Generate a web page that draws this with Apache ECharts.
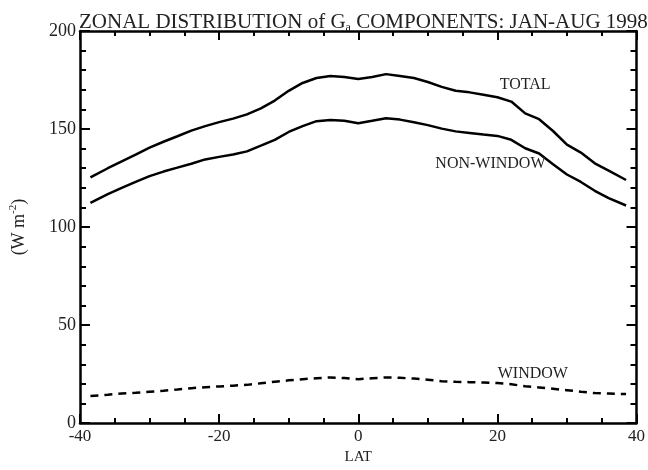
<!DOCTYPE html>
<html>
<head>
<meta charset="utf-8">
<script src="https://cdn.jsdelivr.net/npm/echarts@6/dist/echarts.min.js"></script>
<style>
  html, body { margin: 0; padding: 0; background: #fff; }
  #chart { width: 648px; height: 470px; }
</style>
</head>
<body>
<div id="chart"></div>
<script>
// Latitude grid (degrees)
const lat = [-38.5, -36, -34, -32, -30, -28, -26, -24, -22, -20, -18, -16, -14, -12, -10,
  -8, -6, -4, -2, 0, 2, 4, 6, 8, 10, 12, 14, 16, 18, 20, 22, 24, 26, 28, 30, 32, 34, 36, 38.5];

// Zonal means, W m-2
const total = [125.3, 130, 133.5, 137, 140.5, 143.5, 146.3, 149.2, 151.5, 153.5, 155.3, 157.5, 160.5, 164.5, 169.5,
  173.5, 176, 177, 176.5, 175.5, 176.5, 178, 177, 176, 174, 171.5, 169.5, 168.7, 167.5, 166.2, 164, 158, 155, 149, 142, 138, 132.5, 128.8, 124];
const nonWindow = [112.3, 116.8, 120, 123, 126, 128.3, 130.3, 132.3, 134.5, 135.8, 137, 138.6, 141.5, 144.5, 148.5,
  151.5, 154, 154.6, 154.2, 153, 154.2, 155.5, 154.8, 153.5, 152, 150.2, 148.8, 148, 147.2, 146.5, 144.5, 140.2, 137.5, 132, 126.8, 123, 118.5, 114.8, 111];
const windowBand = [13.8, 14.5, 15.1, 15.5, 16, 16.5, 17.1, 17.8, 18.3, 18.7, 19.1, 19.5, 20.3, 21.1, 21.8,
  22.4, 22.9, 23.3, 23, 22.4, 22.9, 23.3, 23.1, 22.7, 22.1, 21.4, 21.1, 20.9, 20.7, 20.4, 19.8, 18.8, 18.2, 17.5, 16.8, 16, 15.3, 15.1, 14.8];

// Curve labels: [text, lat, value]
const curveLabels = [
  ['TOTAL', 24, 172.5],
  ['NON-WINDOW', 19, 132.5],
  ['WINDOW', 25.1, 25]
];

const FONT = 'Liberation Serif';
const pair = arr => lat.map((x, i) => [x, arr[i]]);

const chart = echarts.init(document.getElementById('chart'));

const frameLine = { show: true, onZero: false, lineStyle: { color: '#000', width: 2.5 } };
const xCommon = {
  type: 'value', min: -40, max: 40, interval: 20,
  axisLine: frameLine,
  axisTick: { show: true, inside: true, length: 9, lineStyle: { color: '#000', width: 2 } },
  minorTick: { show: true, splitNumber: 4, length: 5, lineStyle: { color: '#000', width: 2 } },
  splitLine: { show: false }
};
const yCommon = {
  type: 'value', min: 0, max: 200, interval: 50,
  axisLine: frameLine,
  axisTick: { show: true, inside: true, length: 10, lineStyle: { color: '#000', width: 2 } },
  minorTick: { show: true, splitNumber: 5, length: 6, lineStyle: { color: '#000', width: 2 } },
  splitLine: { show: false }
};

chart.setOption({
  backgroundColor: '#fff',
  animation: false,
  title: {
    text: '{a|ZONAL DISTRIBUTION of G}{s|a}{a| COMPONENTS: JAN-AUG 1998}',
    left: 74, top: 5,
    textStyle: {
      fontWeight: 'normal',
      rich: {
        a: { fontFamily: FONT, fontSize: 21, fontWeight: 'normal', color: '#222', lineHeight: 24 },
        s: { fontFamily: FONT, fontSize: 12, fontWeight: 'normal', color: '#222', lineHeight: 12, verticalAlign: 'bottom' }
      }
    }
  },
  grid: { left: 80, right: 8, top: 31, bottom: 39 },
  xAxis: [
    Object.assign({}, xCommon, {
      position: 'bottom',
      name: 'LAT', nameLocation: 'middle', nameGap: 24,
      nameTextStyle: { fontFamily: FONT, fontSize: 15, color: '#222' },
      axisLabel: { fontFamily: FONT, fontSize: 17, color: '#222', margin: 5 }
    }),
    Object.assign({}, xCommon, { position: 'top', axisLabel: { show: false } })
  ],
  yAxis: [
    Object.assign({}, yCommon, {
      position: 'left',
      name: '{a|(W m}{s|-2}{a|)}', nameLocation: 'middle', nameGap: 50, nameRotate: 90,
      nameTextStyle: {
        rich: {
          a: { fontFamily: FONT, fontSize: 18, color: '#222', lineHeight: 22 },
          s: { fontFamily: FONT, fontSize: 11, color: '#222', lineHeight: 11, verticalAlign: 'top' }
        }
      },
      axisLabel: { fontFamily: FONT, fontSize: 18, color: '#222', margin: 4 }
    }),
    Object.assign({}, yCommon, { position: 'right', axisLabel: { show: false } })
  ],
  series: [
    {
      name: 'TOTAL', type: 'line', data: pair(total), showSymbol: false,
      lineStyle: { color: '#000', width: 2.5 },
      markPoint: {
        symbolSize: 0,
        label: { show: true, position: 'inside', fontFamily: FONT, fontSize: 16, color: '#222',
          formatter: p => p.name },
        data: curveLabels.map(c => ({ name: c[0], coord: [c[1], c[2]] }))
      }
    },
    {
      name: 'NON-WINDOW', type: 'line', data: pair(nonWindow), showSymbol: false,
      lineStyle: { color: '#000', width: 2.5 }
    },
    {
      name: 'WINDOW', type: 'line', data: pair(windowBand), showSymbol: false,
      lineStyle: { color: '#000', width: 2.5, type: [8, 6] }
    }
  ]
});
</script>
</body>
</html>
